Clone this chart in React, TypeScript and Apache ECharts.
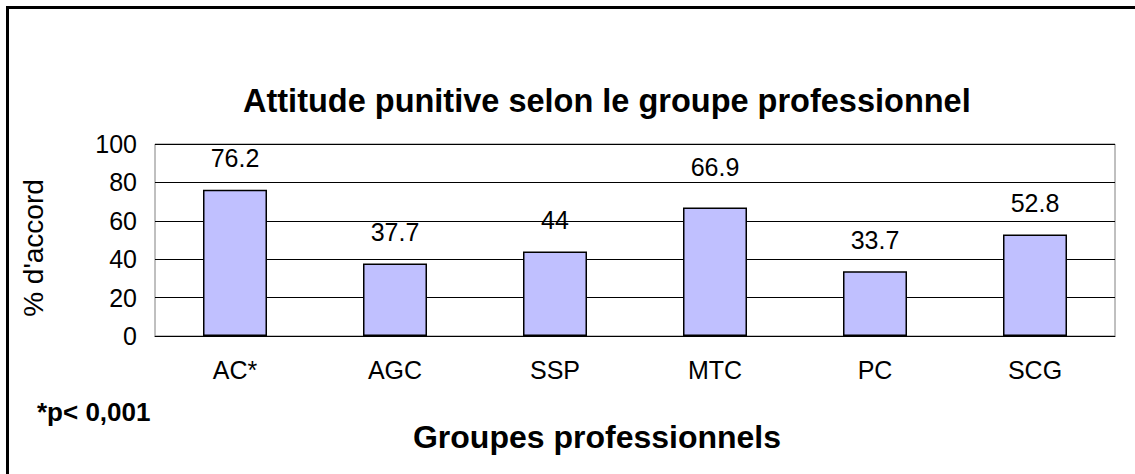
import React, { useEffect, useRef } from "react";
import * as echarts from "echarts";

const categories = ["AC*", "AGC", "SSP", "MTC", "PC", "SCG"];
const values = [76.2, 37.7, 44, 66.9, 33.7, 52.8];
const titleText = "Attitude punitive selon le groupe professionnel";
const yName = "% d'accord";
const xName = "Groupes professionnels";
const noteText = "*p< 0,001";

const FONT = "'Liberation Sans', Arial, sans-serif";

export default function App() {
  const ref = useRef<HTMLDivElement>(null);
  useEffect(() => {
    if (!ref.current) return;
    const chart = echarts.init(ref.current, undefined, { renderer: "svg" });
    const seriesData = values.map((v, i) =>
      i === 3 ? { value: v, label: { distance: 28 } } : { value: v }
    );
    chart.setOption({
      animation: false,
      backgroundColor: "#ffffff",
      title: {
        text: titleText,
        left: 238,
        top: 79,
        textStyle: { fontFamily: FONT, fontSize: 32.5, fontWeight: "bold", color: "#000" },
      },
      grid: {
        left: 155,
        right: 20,
        top: 144,
        bottom: 138,
        show: true,
        borderColor: "#808080",
        borderWidth: 1,
        backgroundColor: "transparent",
      },
      xAxis: {
        type: "category",
        data: categories,
        name: xName,
        nameLocation: "middle",
        nameGap: 85,
        nameTextStyle: {
          fontFamily: FONT,
          fontSize: 32,
          fontWeight: "bold",
          color: "#000",
          padding: [0, 76, 0, 0],
        },
        axisLine: { show: true, lineStyle: { color: "#000", width: 1 } },
        axisTick: { show: false },
        axisLabel: { fontFamily: FONT, fontSize: 25, color: "#000", margin: 21 },
        splitLine: { show: false },
      },
      yAxis: {
        type: "value",
        min: 0,
        max: 100,
        interval: 20,
        name: yName,
        nameLocation: "middle",
        nameGap: 108,
        nameRotate: 90,
        nameTextStyle: { fontFamily: FONT, fontSize: 28, color: "#000", padding: [0, 16, 0, 0] },
        axisLine: { show: false },
        axisTick: { show: false },
        axisLabel: { fontFamily: FONT, fontSize: 25, color: "#000", margin: 18 },
        splitLine: { show: true, lineStyle: { color: "#000", width: 1 } },
      },
      series: [
        {
          type: "bar",
          data: seriesData,
          barWidth: "40%",
          itemStyle: { color: "#C0C0FF", borderColor: "#000", borderWidth: 1.5 },
          label: {
            show: true,
            position: "top",
            distance: 19,
            fontFamily: FONT,
            fontSize: 25,
            color: "#000",
          },
        },
      ],
      graphic: [
        {
          type: "rect",
          z: 100,
          shape: { x: 7.5, y: 7.5, width: 1400, height: 700 },
          style: { fill: "transparent", stroke: "#000", lineWidth: 3 },
          silent: true,
        },
        {
          type: "text",
          left: 37,
          top: 399,
          style: { text: noteText, fontFamily: FONT, fontSize: 26, fontWeight: "bold", fill: "#000" },
        },
      ],
    });
    return () => chart.dispose();
  }, []);
  return (
    <div
      ref={ref}
      style={{ position: "fixed", left: 0, top: 0, width: 1135, height: 474, overflow: "hidden" }}
    />
  );
}
